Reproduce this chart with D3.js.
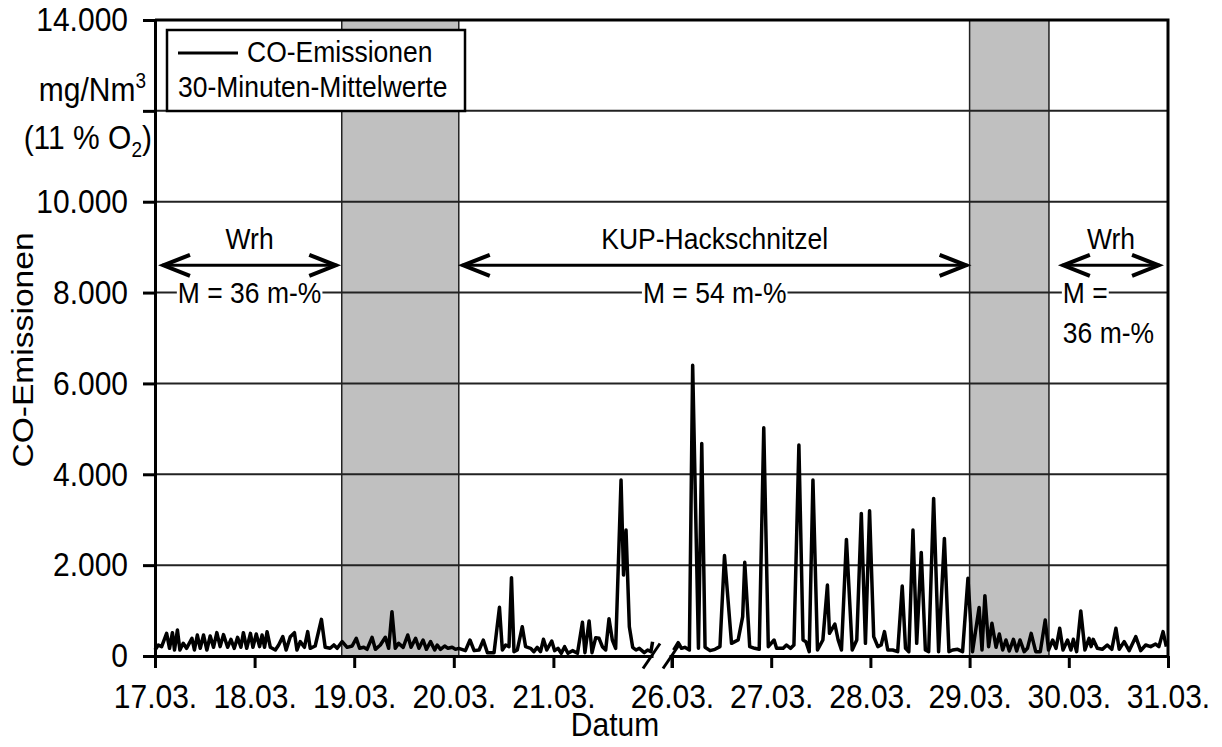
<!DOCTYPE html>
<html><head><meta charset="utf-8">
<script src="https://cdn.jsdelivr.net/npm/d3@7"></script>
<style>
body{margin:0;background:#fff}
svg{display:block}
text{font-family:Arial,"Liberation Sans",Helvetica,sans-serif;fill:#000}
</style></head>
<body><svg id="c" width="1222" height="747"></svg>
<script>
// ---------- data ----------
const yTicks = [0, 2000, 4000, 6000, 8000, 10000, 12000, 14000];
const yTickLabels = ["0", "2.000", "4.000", "6.000", "8.000", "10.000", "", "14.000"];
const xTickDays = [17, 18, 19, 20, 21, 26, 27, 28, 29, 30, 31];
const xTickLabels = ["17.03.", "18.03.", "19.03.", "20.03.", "21.03.", "26.03.", "27.03.", "28.03.", "29.03.", "30.03.", "31.03."];
// segment 1: hours after 17.03. 00:00
const seg1Hours = [0.0,0.8,1.6,2.8,3.5,4.2,4.7,5.4,6.0,6.8,7.6,8.9,9.5,10.2,10.9,11.7,12.5,13.3,14.1,14.9,15.7,16.5,17.5,18.3,19.1,19.9,20.7,21.3,22.1,23.0,23.6,24.4,25.2,25.8,26.4,27.0,27.8,29.0,29.8,30.8,31.6,32.6,33.6,34.2,35.0,36.0,36.8,37.4,38.6,40.1,41.0,42.2,43.1,43.9,45.1,46.3,47.5,48.5,49.3,50.3,51.1,52.3,53.1,54.3,55.5,56.3,57.1,57.9,58.7,59.8,60.9,61.7,62.8,63.6,64.6,65.4,66.4,67.4,68.0,68.8,69.8,70.6,71.6,72.4,73.2,74.8,75.9,76.9,78.1,79.1,80.1,81.7,83.0,83.7,84.5,85.3,85.9,86.5,87.3,88.5,89.3,90.5,91.3,92.1,92.9,93.6,94.4,95.6,96.3,97.1,97.9,98.7,99.5,100.6,101.8,103.0,103.6,104.6,105.3,106.2,107.0,107.8,108.6,109.4,110.2,111.0,112.3,112.9,113.5,114.3,115.1,115.9,116.7,117.9,118.7,119.5,119.9];
const seg1Values = [132,243,206,499,169,514,132,573,132,279,169,389,132,462,169,462,132,440,191,514,206,470,191,367,169,411,191,514,169,499,191,484,206,462,191,536,191,132,243,426,132,426,514,132,316,191,536,169,220,807,191,169,243,169,316,191,220,389,169,191,147,411,147,243,411,169,976,169,279,191,462,191,389,169,352,147,316,132,243,147,220,169,191,147,169,118,352,118,132,350,70,74,1071,132,242,205,1724,95,132,645,205,169,95,191,95,367,132,330,118,169,59,205,59,118,59,741,74,770,74,403,389,205,132,822,352,169,3872,1782,2772,645,191,132,169,74,132,95,315];
// segment 2: hours after 26.03. 00:00
const seg2Hours = [0.4,1.5,2.3,3.1,4.2,5.0,6.4,7.2,8.0,9.2,10.4,11.6,12.7,14.4,15.2,16.0,17.1,17.6,18.8,20.0,21.1,22.2,23.3,24.7,25.3,26.9,27.7,28.7,29.5,30.7,31.7,32.4,33.2,34.1,35.2,36.5,37.6,38.1,39.4,40.2,41.0,42.2,43.6,44.7,45.8,46.8,47.8,48.8,49.8,50.6,51.4,52.2,53.4,54.6,55.7,56.5,57.3,58.3,59.2,60.3,61.3,62.1,63.3,64.5,65.9,67.0,67.9,69.1,70.3,71.6,72.7,74.3,75.0,75.7,76.6,77.4,78.4,79.2,80.0,80.8,81.6,82.6,83.4,84.2,85.2,86.0,86.9,88.0,89.1,90.3,91.1,92.1,92.9,93.8,94.6,95.7,96.5,97.1,97.9,98.9,99.9,100.9,101.4,101.9,102.9,104.1,105.3,106.4,107.4,108.2,109.4,110.6,112.2,113.4,114.6,115.8,117.0,117.8,118.8,119.6];
const seg2Values = [130,294,169,191,132,6402,169,4679,191,118,147,206,2210,279,315,352,866,2061,206,169,147,5023,206,352,169,169,242,169,242,4642,352,315,95,3872,132,352,1562,499,704,352,132,2567,132,352,3139,279,3197,425,206,242,536,132,132,95,1540,169,95,2772,279,2281,132,95,3469,95,2589,95,132,147,95,1709,95,1070,132,1327,206,719,191,484,132,352,110,367,110,352,95,169,499,95,95,792,132,352,169,609,132,352,132,367,95,990,132,389,206,367,169,147,242,147,609,147,316,118,425,118,242,206,264,206,536,206];
// shaded periods (day of March)
const bandStart = [18.875, 29.0];
const bandEnd = [20.05, 29.8];
// annotations
const fuelLabels = ["Wrh", "KUP-Hackschnitzel", "Wrh"];
const fuelFrom = [17.07, 20.08, 29.93];
const fuelTo = [18.83, 28.98, 30.92];
const moistureLabels = ["M = 36 m-%", "M = 54 m-%"];
const legendLines = ["CO-Emissionen", "30-Minuten-Mittelwerte"];

// ---------- layout ----------
const SY = 1.12; // vertical glyph stretch of the original
const svg = d3.select("#c");
const L = 155, R = 1168, T = 20, B = 656;
const x = d3.scaleLinear().domain([17, 22, 26, 31]).range([L, 653, 672, R]);
const y = d3.scaleLinear().domain([0, 14000]).range([B, T]);
function stretch(t, y0) {
  t.attr("transform", `translate(0,${y0}) scale(1,${SY}) translate(0,${-y0})`);
  return t;
}

// bands
svg.append("g").selectAll("rect").data(bandStart).join("rect")
  .attr("x", (d, i) => x(d)).attr("y", T)
  .attr("width", (d, i) => x(bandEnd[i]) - x(d)).attr("height", B - T)
  .attr("fill", "#c0c0c0").attr("stroke", "#222").attr("stroke-width", 1.5);

// gridlines
svg.append("g").selectAll("line").data(yTicks.filter(v => v > 0 && v < 14000)).join("line")
  .attr("x1", L).attr("x2", R).attr("y1", d => y(d)).attr("y2", d => y(d))
  .attr("stroke", "#222").attr("stroke-width", 2);

// annotations
const ann = svg.append("g");
const arrowY = y(8600);
function arrow(x1, x2) {
  ann.append("line").attr("x1", x1).attr("x2", x2).attr("y1", arrowY).attr("y2", arrowY)
    .attr("stroke", "#000").attr("stroke-width", 3);
  ann.append("path").attr("d", `M${x1 + 28},${arrowY - 10.5}L${x1 + 1.5},${arrowY}L${x1 + 28},${arrowY + 10.5}`)
    .attr("fill", "none").attr("stroke", "#000").attr("stroke-width", 4);
  ann.append("path").attr("d", `M${x2 - 28},${arrowY - 10.5}L${x2 - 1.5},${arrowY}L${x2 - 28},${arrowY + 10.5}`)
    .attr("fill", "none").attr("stroke", "#000").attr("stroke-width", 4);
}
fuelLabels.forEach((lab, i) => {
  const x1 = x(fuelFrom[i]), x2 = x(fuelTo[i]);
  arrow(x1, x2);
  const ty = arrowY - 16;
  stretch(ann.append("text").attr("x", (x1 + x2) / 2).attr("y", ty)
    .attr("text-anchor", "middle").attr("font-size", 26.5).text(lab), ty);
});
function boxedText(tx, ty, anchor, str) {
  const t = ann.append("text").attr("x", tx).attr("y", ty).attr("text-anchor", anchor)
    .attr("font-size", 26.5).text(str);
  const bb = t.node().getBBox();
  ann.insert("rect", () => t.node()).attr("x", bb.x - 1).attr("y", ty - 24)
    .attr("width", bb.width + 2).attr("height", 24).attr("fill", "#fff");
  stretch(t, ty);
}
const mY = y(8000) + 10.5;
boxedText((x(fuelFrom[0]) + x(fuelTo[0])) / 2, mY, "middle", moistureLabels[0]);
boxedText((x(fuelFrom[1]) + x(fuelTo[1])) / 2, mY, "middle", moistureLabels[1]);
boxedText(x(fuelFrom[2]) + 1, mY, "start", "M =");
stretch(ann.append("text").attr("x", x(fuelFrom[2]) + 1).attr("y", mY + 40).attr("font-size", 26.5).text("36 m-%"), mY + 40);

// data line
const line = d3.line().x(d => x(d[0])).y(d => y(d[1]));
const s1 = seg1Hours.map((h, i) => [17 + h / 24, seg1Values[i]]);
const s2 = seg2Hours.map((h, i) => [26 + h / 24, seg2Values[i]]);
svg.append("g").selectAll("path").data([s1, s2]).join("path")
  .attr("d", line).attr("fill", "none").attr("stroke", "#000")
  .attr("stroke-width", 3.5).attr("stroke-linejoin", "round");

// axes
const yAxis = svg.append("g").attr("transform", `translate(${L},0)`)
  .call(d3.axisLeft(y).tickValues(yTicks).tickFormat((d, i) => yTickLabels[i])
    .tickSize(12).tickSizeOuter(0).tickPadding(15));
yAxis.selectAll("text").attr("font-size", 30).attr("font-family", "Arial,'Liberation Sans',sans-serif")
  .attr("transform", `scale(1,${SY})`);
yAxis.selectAll("line").attr("stroke-width", 3);
yAxis.select(".domain").attr("stroke-width", 3);

const xAxis = svg.append("g").attr("transform", `translate(0,${B})`)
  .call(d3.axisBottom(x).tickValues(xTickDays).tickFormat((d, i) => xTickLabels[i])
    .tickSize(12).tickSizeOuter(0).tickPadding(16));
xAxis.selectAll("text").attr("font-size", 30).attr("font-family", "Arial,'Liberation Sans',sans-serif")
  .attr("transform", `translate(0,28) scale(1,${SY}) translate(0,-28)`);
xAxis.selectAll("line").attr("stroke-width", 3);
xAxis.select(".domain").attr("stroke-width", 3);

// top and right frame
svg.append("path").attr("d", `M${L},${T}H${R}V${B}`).attr("fill", "none")
  .attr("stroke", "#000").attr("stroke-width", 3);

// axis break
const b1 = x(22) - 1.5, b2 = x(26) - 0.5;
svg.append("path").attr("d", `M${b1 + 2},${B + 4}L${b2 - 2},${B + 4}L${b2 - 2},${B - 4}L${b1 + 2},${B - 4}Z`)
  .attr("fill", "#fff");
[b1, b2].forEach(cx => {
  svg.append("line").attr("x1", cx - 8.5).attr("y1", B + 12.5).attr("x2", cx + 8.5).attr("y2", B - 12.5)
    .attr("stroke", "#000").attr("stroke-width", 3);
});
svg.append("line").attr("x1", x(26)).attr("x2", x(26)).attr("y1", B).attr("y2", B + 12)
  .attr("stroke", "#000").attr("stroke-width", 3);

// axis titles and unit
stretch(svg.append("text").attr("x", 615).attr("y", 736).attr("text-anchor", "middle")
  .attr("font-size", 30).text("Datum"), 736);
svg.append("text").attr("transform", `translate(33,350) rotate(-90) scale(${SY},1)`).attr("text-anchor", "middle")
  .attr("font-size", 30).text("CO-Emissionen");
const u1 = svg.append("text").attr("x", 146).attr("y", 101).attr("text-anchor", "end").attr("font-size", 30);
u1.append("tspan").text("mg/Nm");
u1.append("tspan").attr("font-size", 19).attr("dy", -12).text("3");
stretch(u1, 101);
const u2 = svg.append("text").attr("x", 152).attr("y", 149).attr("text-anchor", "end").attr("font-size", 30);
u2.append("tspan").text("(11 % O");
u2.append("tspan").attr("font-size", 19).attr("dy", 7).text("2");
u2.append("tspan").attr("dy", -7).text(")");
stretch(u2, 149);

// legend
const lg = svg.append("g");
lg.append("rect").attr("x", 167).attr("y", 30).attr("width", 298).attr("height", 81)
  .attr("fill", "#fff").attr("stroke", "#000").attr("stroke-width", 2.5);
lg.append("line").attr("x1", 178).attr("x2", 238).attr("y1", 53).attr("y2", 53)
  .attr("stroke", "#000").attr("stroke-width", 3);
stretch(lg.append("text").attr("x", 247).attr("y", 62).attr("font-size", 26.5).text(legendLines[0]), 62);
stretch(lg.append("text").attr("x", 178).attr("y", 97).attr("font-size", 26.5).text(legendLines[1]), 97);
</script></body></html>
